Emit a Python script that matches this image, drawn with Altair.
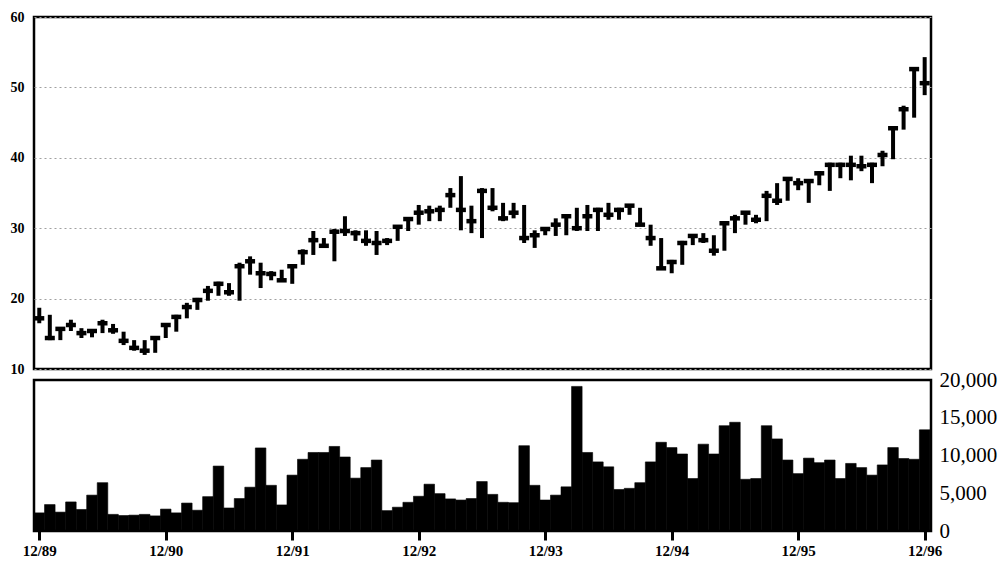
import altair as alt
import pandas as pd

# month index 0 = 12/89 ... 84 = 12/96
TICK_LABELS = ["12/89", "12/90", "12/91", "12/92", "12/93", "12/94", "12/95", "12/96"]

HIGH = [18.7, 17.7, 15.8, 17.0, 15.8, 15.5, 17.0, 16.4, 15.3, 14.1, 14.1, 14.5, 16.5, 17.7, 19.4, 20.1,
        21.8, 22.4, 22.2, 25.1, 26.0, 25.1, 23.9, 24.1, 24.8, 27.0, 29.6, 28.6, 29.9,
        31.7, 29.7, 29.7, 29.6, 28.6, 30.3, 31.4, 33.3, 33.2, 33.2, 35.7, 37.4, 33.2,
        35.7, 35.7, 33.6, 33.6, 33.3, 29.7, 30.0, 31.4, 31.9, 32.9, 33.3, 32.9, 33.6, 32.9, 33.3, 32.9,
        30.5, 28.6, 25.5, 28.2, 29.0,
        29.3, 29.0, 30.7, 31.9, 32.4, 31.9, 35.3, 36.4, 37.1, 37.1, 36.8, 38.1, 39.3, 39.3, 40.3, 40.3,
        39.3, 41.0, 44.5, 47.4, 52.8, 54.3]
LOW = [16.5, 14.1, 14.1, 15.4, 14.4, 14.5, 15.1, 15.0, 13.4, 12.6, 12.0, 12.3, 14.4, 15.3, 17.2, 18.4,
       19.7, 20.4, 20.4, 19.7, 23.4, 21.5, 22.6, 22.4, 22.1, 24.8, 26.2, 27.2, 25.3,
       28.9, 28.2, 27.5, 26.2, 27.6, 28.2, 29.6, 30.5, 31.0, 31.0, 32.9, 29.7, 29.3,
       28.6, 32.4, 31.0, 31.4, 27.9, 27.2, 29.0, 28.9, 29.0, 29.6, 29.6, 29.6, 31.2, 31.2, 31.9, 30.3,
       27.5, 24.1, 23.6, 24.8, 27.6,
       27.9, 26.1, 26.8, 29.3, 30.5, 30.7, 31.0, 33.3, 33.9, 35.4, 33.6, 36.1, 35.3, 37.1, 36.8, 38.1,
       36.4, 38.8, 39.8, 44.0, 45.7, 48.9]
CLOSE = [17.2, 14.4, 15.7, 16.25, 15.1, 15.4, 16.5, 15.5, 14.0, 13.0, 12.6, 14.4, 16.25, 17.4, 18.8, 19.8,
         21.1, 22.1, 20.9, 24.6, 25.3, 23.6, 23.5, 22.6, 24.6, 26.6, 28.3, 27.5, 29.5,
         29.6, 29.3, 28.2, 27.9, 28.2, 30.2, 31.3, 32.2, 32.4, 32.6, 34.7, 32.6, 31.0,
         35.3, 32.9, 31.4, 32.2, 28.6, 29.0, 29.9, 30.5, 31.7, 30.0, 31.7, 32.6, 31.9, 32.6, 33.2, 30.5,
         28.6, 24.3, 25.2, 27.9, 28.9,
         28.3, 26.8, 30.7, 31.4, 32.2, 31.2, 34.6, 33.9, 37.0, 36.4, 36.7, 37.8, 39.0, 39.0, 39.0, 38.8,
         39.0, 40.4, 44.2, 46.9, 52.6, 50.6]
VOLUME = [2400, 3500, 2500, 3850, 2850, 4750, 6400, 2200, 2050, 2100, 2200, 2000, 2900, 2400, 3700, 2750,
          4550, 8600, 3050, 4300, 5800, 11000, 6050, 3450, 7400, 9500, 10400, 10400, 11200, 9800,
          7000, 8400, 9400, 2700, 3150, 3800, 4600, 6200, 4950, 4250, 4100, 4300, 6550, 4850,
          3800, 3750, 11300, 6050, 4100, 4750, 5850, 19150, 10400, 9150, 8500, 5500, 5650, 6400,
          9150, 11750, 11050, 10200, 6950, 11500, 10200, 13950, 14400, 6850, 6950, 13950, 12200,
          9400, 7600, 9650, 9050, 9400, 6950, 8950, 8400, 7400, 8750, 11050, 9600, 9500, 13400]

MONTHS = list(range(len(CLOSE)))

df = pd.DataFrame({"t": MONTHS, "high": HIGH, "low": LOW, "close": CLOSE, "vol": VOLUME})
df["t0"] = df["t"] - 0.5
df["t1"] = df["t"] + 0.5

FONT = "Liberation Serif"
XDOM = [-0.5, 84.6]
W = 897

label_arr = "[" + ",".join("'%s'" % s for s in TICK_LABELS) + "]"

xs_top = alt.X("t:Q", scale=alt.Scale(domain=XDOM, nice=False, zero=False), axis=None)

price_axis = alt.Axis(values=[10, 20, 30, 40, 50, 60], labelFont=FONT, labelFontWeight="bold",
                      labelFontSize=14, labelColor="black", labelPadding=10, ticks=False,
                      domain=False, grid=True, gridColor="#a0a0a0", gridDash=[2, 3],
                      gridWidth=1, title=None)
yprice = alt.Scale(domain=[10, 60], nice=False, zero=False)

base = alt.Chart(df)
rules = base.mark_rule(color="black", strokeWidth=4).encode(
    x=xs_top,
    y=alt.Y("low:Q", scale=yprice, axis=price_axis),
    y2="high:Q",
)
ticks = base.mark_tick(color="black", orient="horizontal", size=10, thickness=4.5, opacity=1).encode(
    x=xs_top,
    y=alt.Y("close:Q", scale=yprice),
)
top = alt.layer(rules, ticks).properties(width=W, height=352)

x_axis = alt.Axis(values=[0, 12, 24, 36, 48, 60, 72, 84],
                  labelExpr=label_arr + "[round(datum.value/12)]",
                  labelFont=FONT, labelFontWeight="bold", labelFontSize=15, labelColor="black",
                  tickSize=9, tickWidth=3, tickColor="black", domain=False, grid=False,
                  labelPadding=3, title=None)
vol = base.mark_rect(color="black", stroke="black", strokeWidth=0.6).encode(
    x=alt.X("t0:Q", scale=alt.Scale(domain=XDOM, nice=False, zero=False), axis=x_axis),
    x2="t1:Q",
    y=alt.Y("vol:Q", scale=alt.Scale(domain=[0, 20000], nice=False),
            axis=alt.Axis(orient="right", values=[0, 5000, 10000, 15000, 20000], format=",d",
                          labelFont=FONT, labelFontSize=21, labelColor="black", labelPadding=8,
                          ticks=False, domain=False, grid=False, title=None)),
    y2=alt.datum(0),
).properties(width=W, height=151)

chart = alt.vconcat(top, vol, spacing=11, bounds="flush").properties(
    padding={"left": 0, "top": 0, "right": 0, "bottom": 0}
).configure_view(stroke="black", strokeWidth=2.5, fill="white")

chart.save("out.html", embed_options={"renderer": "svg", "actions": False})
